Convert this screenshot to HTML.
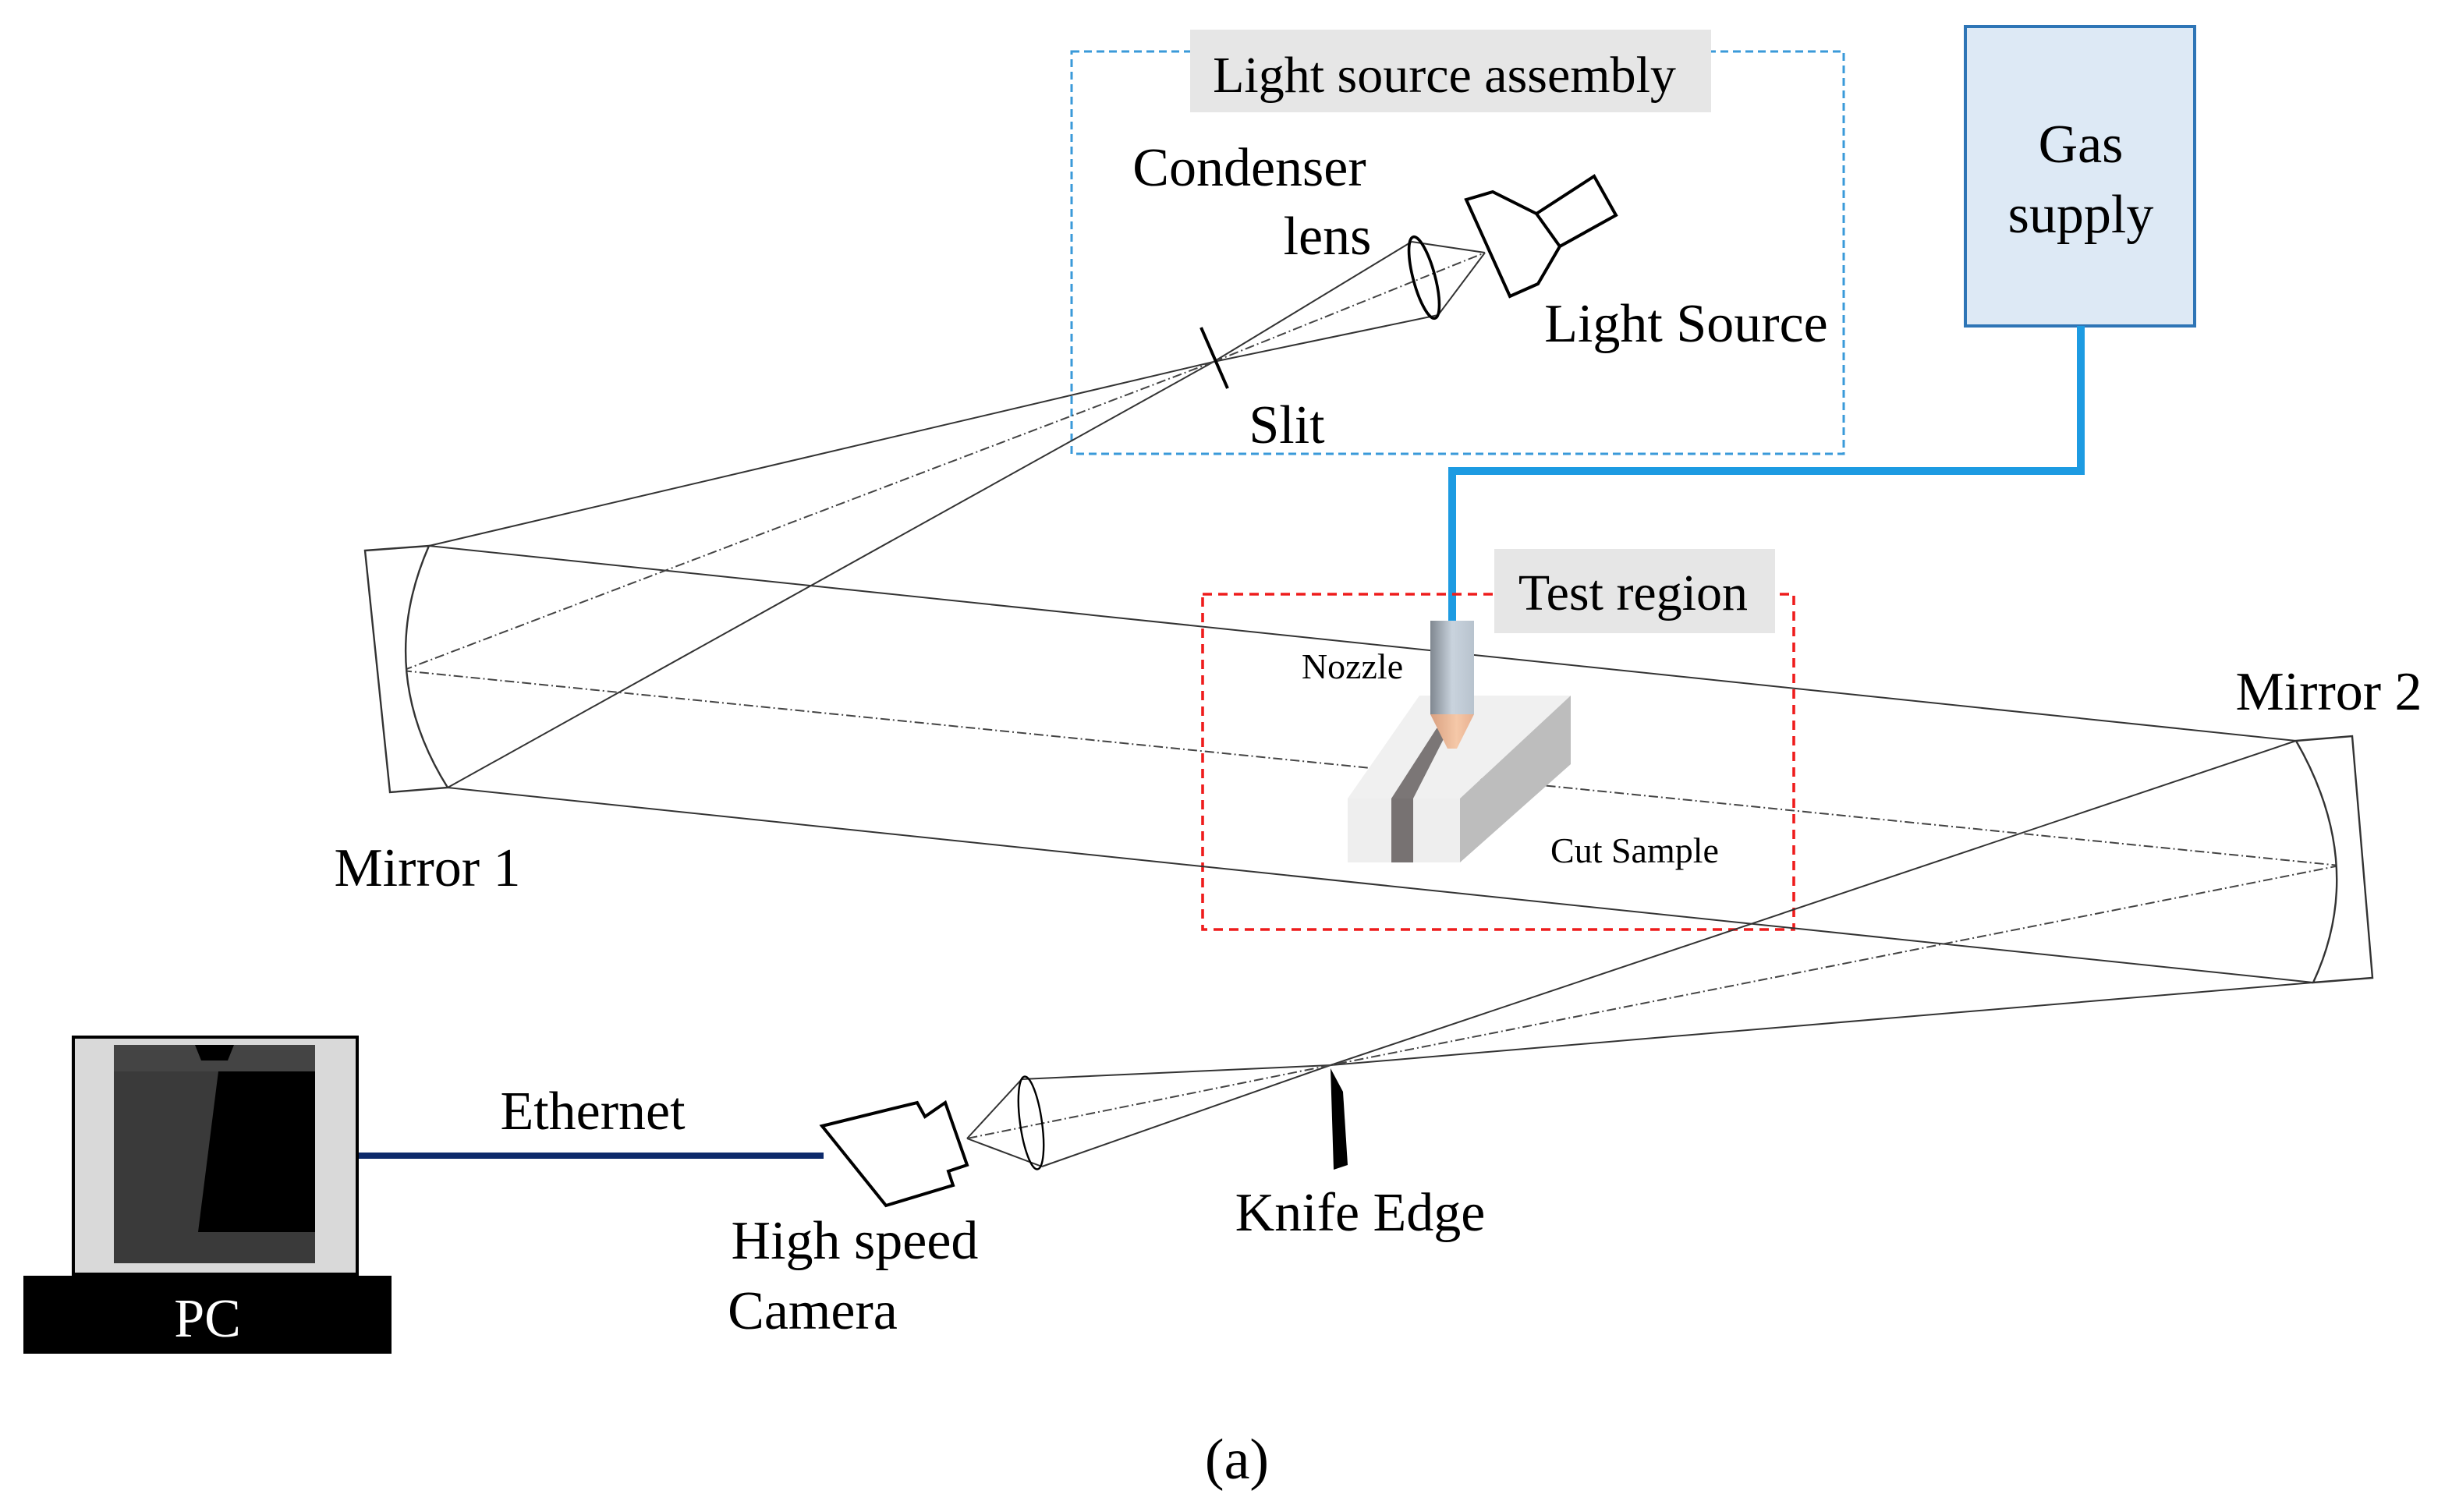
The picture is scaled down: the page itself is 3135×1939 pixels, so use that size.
<!DOCTYPE html>
<html><head><meta charset="utf-8"><style>html,body{margin:0;padding:0;background:#fff}svg{display:block}</style></head>
<body>
<svg width="3135" height="1939" viewBox="0 0 1567.5 969.5" xmlns="http://www.w3.org/2000/svg" font-family="'Liberation Serif', serif">
<defs>
<linearGradient id="noz" x1="0" x2="1"><stop offset="0" stop-color="#7f8790"/><stop offset="0.5" stop-color="#c9d3dd"/><stop offset="1" stop-color="#b8c3ce"/></linearGradient>
<linearGradient id="tip" x1="0" x2="1"><stop offset="0" stop-color="#d9a080"/><stop offset="0.6" stop-color="#f5c8a8"/><stop offset="1" stop-color="#e8b090"/></linearGradient>
</defs>
<rect x="687" y="33" width="495" height="258" fill="none" stroke="#3a9ad9" stroke-width="1.5" stroke-dasharray="5,3"/>
<rect x="763" y="19" width="334" height="53" fill="#e6e6e6"/>
<text x="926" y="59" font-size="33" text-anchor="middle">Light source assembly</text>
<rect x="1260" y="17" width="147" height="192" fill="#dde9f5" stroke="#2e75b6" stroke-width="2"/>
<text x="1334" y="104" font-size="35" text-anchor="middle">Gas</text>
<text x="1334" y="149" font-size="35" text-anchor="middle">supply</text>
<polyline points="1334,209 1334,302 931,302 931,398" fill="none" stroke="#1d9be2" stroke-width="5"/>
<rect x="771" y="381" width="379" height="215" fill="none" stroke="#ee1c1c" stroke-width="1.8" stroke-dasharray="6,4"/>
<g stroke="#333" stroke-width="1" fill="none">
<line x1="778" y1="232" x2="275" y2="350"/>
<line x1="778" y1="232" x2="287" y2="505"/>
<line x1="275" y1="350" x2="1472" y2="475"/>
<line x1="287" y1="505" x2="1483" y2="630"/>
<line x1="1472" y1="475" x2="853" y2="683"/>
<line x1="1483" y1="630" x2="853" y2="683"/>
<line x1="853" y1="683" x2="655" y2="692"/>
<line x1="853" y1="683" x2="668" y2="748"/>
<line x1="655" y1="692" x2="620" y2="730"/>
<line x1="668" y1="748" x2="620" y2="730"/>
<line x1="778" y1="232" x2="905" y2="155"/>
<line x1="778" y1="232" x2="922" y2="202"/>
<line x1="905" y1="155" x2="952" y2="162"/>
<line x1="922" y1="202" x2="952" y2="162"/>
</g>
<g stroke="#444" stroke-width="1" fill="none" stroke-dasharray="6,2,1,2">
<line x1="778" y1="232" x2="258" y2="430"/>
<line x1="258" y1="430" x2="1500" y2="555"/>
<line x1="1500" y1="555" x2="853" y2="683"/>
<line x1="853" y1="683" x2="620" y2="730"/>
<line x1="778" y1="232" x2="952" y2="162"/>
</g>
<line x1="770" y1="210" x2="787" y2="249" stroke="#000" stroke-width="2"/>
<ellipse cx="913" cy="178" rx="7" ry="27" transform="rotate(-15 913 178)" fill="none" stroke="#000" stroke-width="1.8"/>
<polygon points="940,128 957,123 985,137 1022,113 1036,138 1000,158 986,182 968,190" fill="#fff" stroke="#000" stroke-width="2"/>
<line x1="985" y1="137" x2="1000" y2="158" stroke="#000" stroke-width="2"/>
<path d="M234,353 L275,350 Q240,430 287,505 L250,508 Z" fill="#fff" stroke="#333" stroke-width="1.2"/>
<path d="M1472,475 L1508,472 L1521,627 L1483,630 Q1518,555 1472,475 Z" fill="#fff" stroke="#333" stroke-width="1.2"/>
<rect x="958" y="352" width="180" height="54" fill="#e6e6e6"/>
<text x="1047" y="391" font-size="33" text-anchor="middle">Test region</text>
<polygon points="864,512 910,446 1007,446 936,512" fill="#f0f0f0"/>
<polygon points="936,512 1007,446 1007,490 936,553" fill="#bdbdbd"/>
<rect x="864" y="512" width="72" height="41" fill="#eeeeee"/>
<polygon points="892,512 921,467 929,467 906,512" fill="#7b7676"/>
<rect x="892" y="512" width="14" height="41" fill="#777272"/>
<rect x="917" y="398" width="28" height="60" fill="url(#noz)"/>
<polygon points="917,458 945,458 934,480 928,480" fill="url(#tip)"/>
<text x="867" y="435" font-size="23" text-anchor="middle">Nozzle</text>
<text x="1048" y="553" font-size="23" text-anchor="middle">Cut Sample</text>
<polygon points="853,685 861,700 864,747 855,750" fill="#000"/>
<ellipse cx="661" cy="720" rx="7" ry="30" transform="rotate(-8 661 720)" fill="none" stroke="#000" stroke-width="1.2"/>
<polygon points="527,722 588,707 593,716 606,707 620,747 608,751 611,760 568,773" fill="#fff" stroke="#000" stroke-width="2"/>
<line x1="229" y1="741" x2="528" y2="741" stroke="#0d2a6b" stroke-width="4"/>
<text x="380" y="724" font-size="35" text-anchor="middle">Ethernet</text>
<rect x="47" y="665" width="182" height="152" fill="#d9d9d9" stroke="#000" stroke-width="2"/>
<rect x="73" y="670" width="129" height="140" fill="#3a3a3a"/>
<polygon points="140,687 202,687 202,790 127,790" fill="#000"/>
<rect x="73" y="670" width="129" height="17" fill="#444"/>
<polygon points="125,670 150,670 146,680 129,680" fill="#000"/>
<rect x="15" y="818" width="236" height="50" fill="#000"/>
<text x="133" y="857" font-size="35" text-anchor="middle" fill="#fff">PC</text>
<text x="801" y="119" font-size="35" text-anchor="middle">Condenser</text>
<text x="851" y="163" font-size="35" text-anchor="middle">lens</text>
<text x="1081" y="219" font-size="35" text-anchor="middle">Light Source</text>
<text x="825" y="284" font-size="35" text-anchor="middle">Slit</text>
<text x="274" y="568" font-size="35" text-anchor="middle">Mirror 1</text>
<text x="1493" y="455" font-size="35" text-anchor="middle">Mirror 2</text>
<text x="872" y="789" font-size="35" text-anchor="middle">Knife Edge</text>
<text x="548" y="807" font-size="35" text-anchor="middle">High speed</text>
<text x="521" y="852" font-size="35" text-anchor="middle">Camera</text>
<text x="793" y="948" font-size="37" text-anchor="middle">(a)</text>
</svg>
</body></html>
